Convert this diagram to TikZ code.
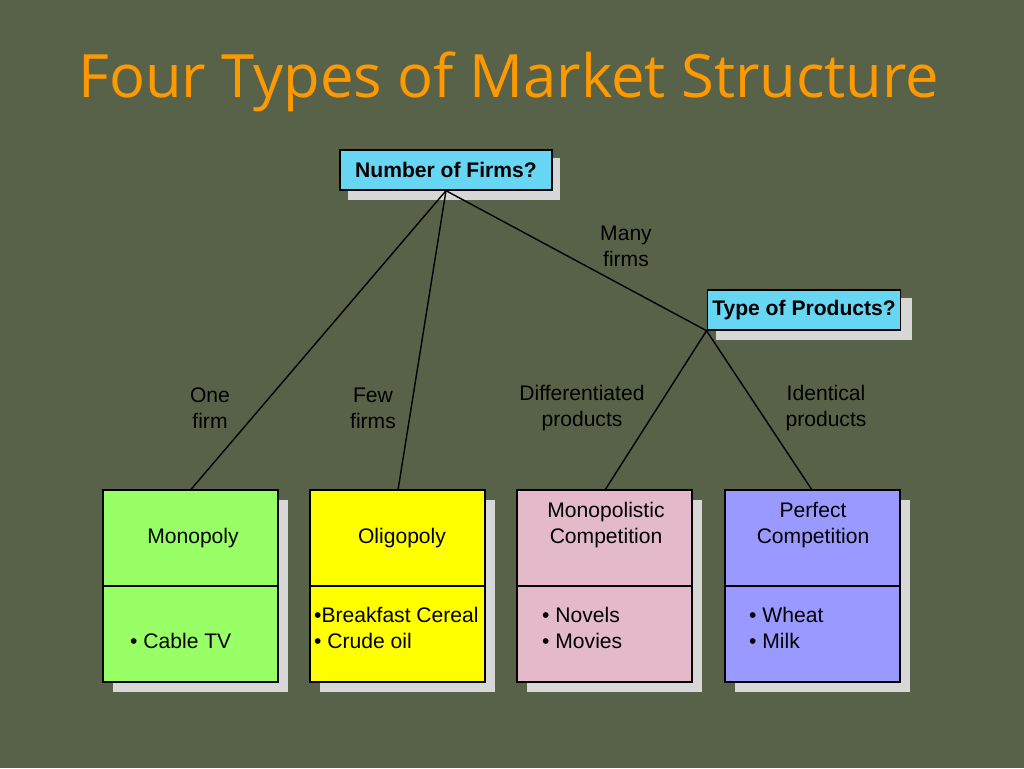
\documentclass[tikz,border=0pt]{standalone}
\usepackage{fontspec}
\setmainfont{Liberation Sans}
\newfontfamily\titlefont{Open Sans}
\usepackage{xcolor}
\usetikzlibrary{positioning}
\definecolor{bgOlive}{RGB}{88,98,72}
\definecolor{titleOrange}{RGB}{255,153,0}
\definecolor{qCyan}{RGB}{102,214,242}
\definecolor{monoGreen}{RGB}{153,255,102}
\definecolor{oliYellow}{RGB}{255,255,0}
\definecolor{mcPink}{RGB}{228,186,202}
\definecolor{pcBlue}{RGB}{153,153,255}
\definecolor{shadowGrey}{RGB}{215,215,215}
\begin{document}
\begin{tikzpicture}[x=0.02cm, y=-0.02cm,
		question/.style = { rectangle, fill = qCyan, draw = black, thick, text = black, font = \fontsize{12}{15}\selectfont\bfseries, minimum height = 0.8 cm, inner sep=0.1cm },
		label/.style = { font = \fontsize{12}{14.8}\selectfont, align = center, text = black },
		boxText/.style = { font = \fontsize{12}{14.8}\selectfont, align = left, text = black },
		]
		\fill[bgOlive] (0,0) rectangle (1024,768);
		\useasboundingbox (0,0) rectangle (1024,768);
		
		\node[font = \titlefont\fontsize{34}{38}\selectfont, text = titleOrange, anchor = west] (title) at (72,82) {Four Types of Market Structure};
		
		% questions
		\fill[shadowGrey] (348,158) rectangle (560,200);
		\node[question, minimum width = 4.24 cm] (FIRMS) at (446,170) {Number of Firms?};
		\fill[shadowGrey] (716,298) rectangle (912,340);
		\node[question, minimum width = 3.84 cm] (PRODUCTS) at (804,310) {Type of Products?};
		
		% market boxes
		\foreach \name/\xl/\col in {MONO/103/monoGreen, OLI/310/oliYellow, MC/517/mcPink, PC/725/pcBlue} {
			\fill[shadowGrey] (\xl+10,500) rectangle (\xl+185,692);
			\filldraw[fill = \col, draw = black, thick] (\xl,490) rectangle (\xl+175,682);
			\draw[thick] (\xl,586) -- (\xl+175,586);
			\coordinate (\name top) at (\xl+87.5,490);
		}
		
		\node[label] (MONOname) at (193,538) {Monopoly};
		\node[label] (OLIname) at (402,538) {Oligopoly};
		\node[label] (MCname) at (606,525) {Monopolistic\\Competition};
		\node[label] (PCname) at (813,525) {Perfect\\Competition};
		
		\node[boxText, anchor = west] (MONOex) at (124,641) {\textbullet\ Cable TV};
		\node[boxText, anchor = west] (OLIex) at (308,628) {\textbullet Breakfast Cereal\\\textbullet\ Crude oil};
		\node[boxText, anchor = west] (MCex) at (536,628) {\textbullet\ Novels\\\textbullet\ Movies};
		\node[boxText, anchor = west] (PCex) at (743,628) {\textbullet\ Wheat\\\textbullet\ Milk};
		
		% branch labels
		\node[label] (ONE) at (210,408) {One\\firm};
		\node[label] (FEW) at (373,408) {Few\\firms};
		\node[label] (MANY) at (626,246) {Many\\firms};
		\node[label] (DIFF) at (582,408) {Differentiated\\products};
		\node[label] (IDENT) at (826,408) {Identical\\products};
		
		\draw[thick] (FIRMS.south) -- (MONOtop);
		\draw[thick] (FIRMS.south) -- (398,490);
		\draw[thick] (FIRMS.south) -- (PRODUCTS.south west);
		\draw[thick] (PRODUCTS.south west) -- (605,490);
		\draw[thick] (PRODUCTS.south west) -- (812,490);
		\end{tikzpicture}
\end{document}
